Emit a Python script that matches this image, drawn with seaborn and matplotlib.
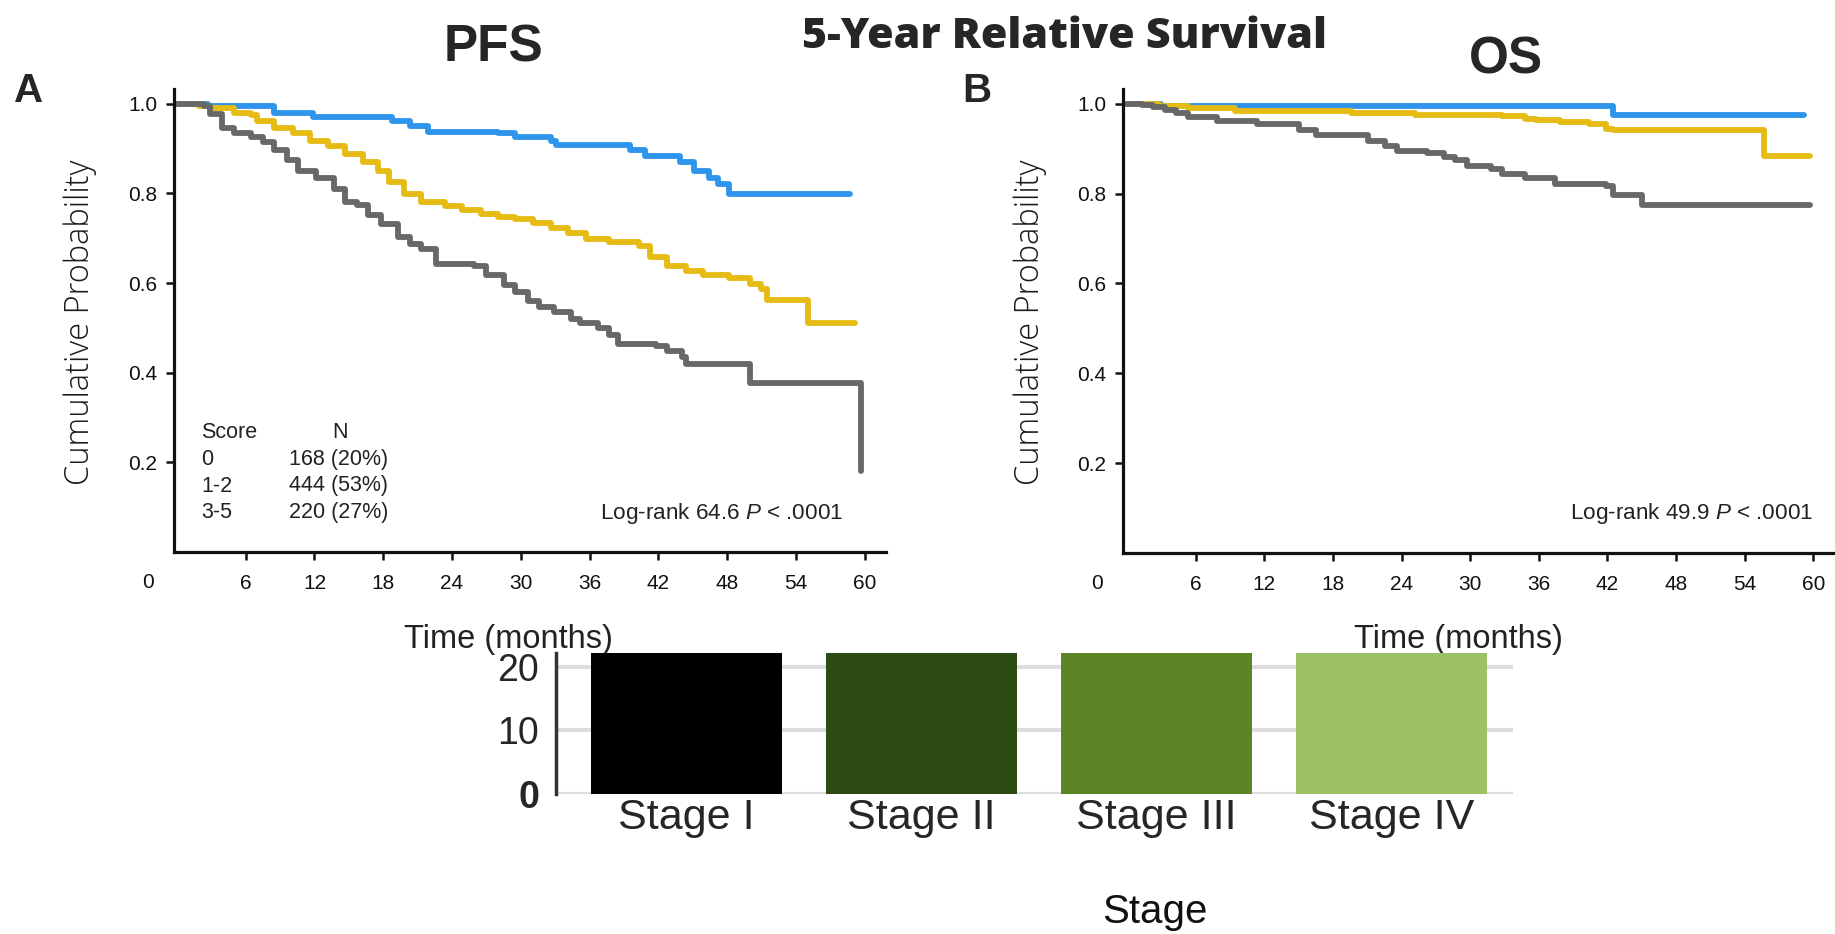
import numpy as np
import pandas as pd
import matplotlib
matplotlib.use("Agg")
import matplotlib.pyplot as plt
import seaborn as sns

# ---------------- data ----------------
score_groups = ["0", "1-2", "3-5"]
score_n = ["168 (20%)", "444 (53%)", "220 (27%)"]

# PFS (panel A) Kaplan-Meier step points (months, probability)
pfs_t_0 = [0, 2.7, 8.5, 11.9, 18.8, 20.3, 21.9, 28.0, 29.5, 32.6, 33.1, 39.5, 40.8, 43.9, 45.1, 46.4, 47.2, 48.2, 58.7]
pfs_s_0 = [1.0, 0.994, 0.979, 0.971, 0.962, 0.950, 0.938, 0.934, 0.926, 0.918, 0.907, 0.898, 0.884, 0.870, 0.850, 0.834, 0.822, 0.798, 0.798]

pfs_t_12 = [0, 1.9, 2.9, 5.0, 6.5, 7.0, 8.5, 10.1, 11.6, 13.2, 14.7, 16.2, 17.5, 18.5, 19.8, 21.3, 23.4, 24.9, 26.5,
            28.0, 29.5, 31.1, 32.6, 34.1, 35.7, 37.7, 40.3, 41.3, 42.8, 44.4, 45.9, 48.2, 50.0, 51.0, 51.5, 55.1, 59.2]
pfs_s_12 = [1.0, 0.995, 0.990, 0.979, 0.974, 0.962, 0.947, 0.934, 0.918, 0.906, 0.888, 0.870, 0.850, 0.826, 0.798, 0.782, 0.771, 0.763, 0.755,
            0.747, 0.743, 0.735, 0.723, 0.711, 0.699, 0.691, 0.683, 0.659, 0.639, 0.627, 0.619, 0.611, 0.599, 0.587, 0.563, 0.512, 0.512]

pfs_t_35 = [0, 2.4, 2.9, 3.9, 5.0, 6.5, 7.5, 8.5, 9.6, 10.6, 12.1, 13.7, 14.7, 15.7, 16.7, 17.8, 19.3, 20.3, 21.3, 22.6,
            25.9, 27.0, 28.5, 29.5, 30.6, 31.6, 32.9, 34.4, 35.2, 36.7, 37.7, 38.5, 41.8, 42.8, 44.1, 44.4, 50.0, 59.7]
pfs_s_35 = [1.0, 0.995, 0.978, 0.946, 0.934, 0.926, 0.914, 0.898, 0.874, 0.850, 0.834, 0.810, 0.782, 0.775, 0.751, 0.731, 0.703, 0.687, 0.675, 0.643,
            0.639, 0.619, 0.595, 0.579, 0.559, 0.547, 0.535, 0.520, 0.512, 0.500, 0.484, 0.464, 0.460, 0.448, 0.436, 0.420, 0.376, 0.181]

# OS (panel B)
os_t_0 = [0, 3.0, 42.5, 59.2]
os_s_0 = [1.0, 0.995, 0.976, 0.976]

os_t_12 = [0, 2.8, 5.3, 9.4, 19.6, 25.2, 32.8, 34.8, 35.8, 37.9, 40.4, 41.9, 42.5, 55.7, 59.7]
os_s_12 = [1.0, 0.996, 0.991, 0.983, 0.979, 0.975, 0.973, 0.967, 0.963, 0.959, 0.954, 0.944, 0.942, 0.884, 0.884]

os_t_35 = [0, 1.3, 2.3, 3.3, 4.3, 5.3, 7.9, 11.4, 15.0, 16.5, 21.1, 22.6, 23.6, 26.2, 27.7, 28.7, 29.7, 31.8, 32.8,
           34.8, 37.4, 41.9, 42.5, 45.0, 59.7]
os_s_35 = [1.0, 0.998, 0.994, 0.987, 0.979, 0.970, 0.962, 0.954, 0.942, 0.931, 0.918, 0.906, 0.894, 0.890, 0.882, 0.874, 0.862, 0.854, 0.844,
           0.834, 0.822, 0.818, 0.798, 0.775, 0.775]

x_ticks = [6, 12, 18, 24, 30, 36, 42, 48, 54, 60]
y_ticks = [0.2, 0.4, 0.6, 0.8, 1.0]
y_tick_labels = ["0.2", "0.4", "0.6", "0.8", "1.0"]

stages = ["Stage I", "Stage II", "Stage III", "Stage IV"]
stage_values = [92, 70, 50, 28]   # bars run past the top of the visible axis
bar_ticks = [0, 10, 20]

pfs_logrank = "Log-rank 64.6 $\\it{P}$ < .0001"
os_logrank = "Log-rank 49.9 $\\it{P}$ < .0001"

# ---------------- style ----------------
group_colors = {"0": "#2F95EC", "1-2": "#E5BB14", "3-5": "#686868"}
bar_colors = ["#000000", "#2D4A12", "#5C8525", "#9CC064"]

sns.set_style("ticks")
plt.rcParams["font.family"] = ["Liberation Sans", "DejaVu Sans"]
plt.rcParams["mathtext.fontset"] = "custom"
plt.rcParams["mathtext.it"] = "Liberation Sans:italic"
plt.rcParams["mathtext.rm"] = "Liberation Sans"

W, H = 1835, 934
fig = plt.figure(figsize=(W / 100, H / 100), dpi=100)
fig.patch.set_facecolor("white")


def rect(x0, y0, x1, y1):
    return [x0 / W, 1 - y1 / H, (x1 - x0) / W, (y1 - y0) / H]


def fx(x):
    return x / W


def fy(y):
    return 1 - y / H


def km_frame(curves):
    frames = []
    for g, (t, s) in zip(score_groups, curves):
        frames.append(pd.DataFrame({"time": t, "surv": s, "score": g}))
    return pd.concat(frames, ignore_index=True)


def draw_km(ax, df, xlim):
    for g in score_groups:
        sub = df[df["score"] == g]
        sns.lineplot(data=sub, x="time", y="surv", color=group_colors[g], drawstyle="steps-post",
                     estimator=None, sort=False, lw=4.2, ax=ax, legend=False)
    ax.set_xlim(*xlim)
    ax.set_ylim(0, 1.033)
    ax.set_xticks(x_ticks)
    ax.set_xticklabels([str(v) for v in x_ticks])
    ax.set_yticks(y_ticks)
    ax.set_yticklabels(y_tick_labels)
    for sp in ["top", "right"]:
        ax.spines[sp].set_visible(False)
    for sp in ["left", "bottom"]:
        ax.spines[sp].set_linewidth(2.3)
        ax.spines[sp].set_color("#111111")
    ax.tick_params(axis="both", direction="out", length=6, width=1.8, labelsize=15, colors="#111111")
    ax.tick_params(axis="x", pad=10)
    ax.tick_params(axis="y", pad=6)
    ax.set_xlabel("")
    ax.set_ylabel("")
    # the "0" label sits left of the axis, with no tick mark
    ax.text(-0.0365, -0.065, "0", transform=ax.transAxes, ha="center", va="center", fontsize=15, color="#111111")


pfs_df = km_frame([(pfs_t_0, pfs_s_0), (pfs_t_12, pfs_s_12), (pfs_t_35, pfs_s_35)])
os_df = km_frame([(os_t_0, os_s_0), (os_t_12, os_s_12), (os_t_35, os_s_35)])

axA = fig.add_axes(rect(174, 89, 886, 552))
draw_km(axA, pfs_df, (-0.26, 61.87))
axB = fig.add_axes(rect(1123, 89, 1835, 553))
draw_km(axB, os_df, (-0.35, 61.9))

# legend table in panel A
fig.text(fx(201), fy(438), "Score", fontsize=15.5, ha="left", va="baseline", color="#222222")
fig.text(fx(340), fy(438), "N", fontsize=15.5, ha="center", va="baseline", color="#222222")
for i, (g, n) in enumerate(zip(score_groups, score_n)):
    yb = 465 + 26.5 * i
    fig.text(fx(201), fy(yb), g, fontsize=15.5, ha="left", va="baseline", color="#222222")
    fig.text(fx(289), fy(yb), n, fontsize=15.5, ha="left", va="baseline", color="#222222")

fig.text(fx(843), fy(519), pfs_logrank, fontsize=16.2, ha="right", va="baseline", color="#222222")
fig.text(fx(1813), fy(519), os_logrank, fontsize=16.2, ha="right", va="baseline", color="#222222")

# y labels
for xc in (80, 1030):
    fig.text(fx(xc), fy(322), "Cumulative Probability", rotation=90, ha="center", va="center",
             fontsize=23.5, family=["Open Sans", "DejaVu Sans"], fontweight="light", color="#1a1a1a")

# x labels (partly hidden by the bar chart below)
for xc in (508, 1458):
    fig.text(fx(xc), fy(648), "Time (months)", ha="center", va="baseline", fontsize=23.5, color="#222222")

# titles
fig.text(fx(493), fy(61), "PFS", ha="center", va="baseline", fontsize=37, fontweight="bold")
fig.text(fx(1506), fy(73), "OS", ha="center", va="baseline", fontsize=37, fontweight="bold")
fig.text(fx(1064), fy(48), "5-Year Relative Survival", ha="center", va="baseline", fontsize=31,
         fontweight="heavy", family=["Open Sans", "DejaVu Sans"])
fig.text(fx(29), fy(102), "A", ha="center", va="baseline", fontsize=29, fontweight="bold")
fig.text(fx(977), fy(102), "B", ha="center", va="baseline", fontsize=29, fontweight="bold")

# ---------------- bar chart ----------------
bax = fig.add_axes(rect(556, 653, 1513, 794))
bax.set_zorder(5)
bax.set_facecolor("white")
bar_df = pd.DataFrame({"stage": stages, "value": stage_values})
sns.barplot(data=bar_df, x="stage", y="value", hue="stage", palette=bar_colors, width=0.81,
            saturation=1, ax=bax, legend=False, edgecolor="none", zorder=3)
bax.set_ylim(0, 22.2)
bax.set_xlim(-0.555, 3.517)
bax.set_yticks(bar_ticks)
bax.set_yticklabels([str(v) for v in bar_ticks])
for v in bar_ticks:
    bax.axhline(v, color="#dddddd", lw=3, zorder=0)
for sp in ["top", "right", "bottom"]:
    bax.spines[sp].set_visible(False)
bax.spines["left"].set_linewidth(2.5)
bax.spines["left"].set_color("#333333")
bax.tick_params(axis="y", length=0, pad=12, labelsize=27)
bax.tick_params(axis="x", length=0, pad=3, labelsize=31)
for lab in bax.get_yticklabels():
    if lab.get_text() == "0":
        lab.set_fontweight("bold")
bax.set_xlabel("")
bax.set_ylabel("")
fig.text(fx(1155), fy(923), "Stage", ha="center", va="baseline", fontsize=29, color="#111111")

fig.savefig("out.png", dpi=100, facecolor="white")
